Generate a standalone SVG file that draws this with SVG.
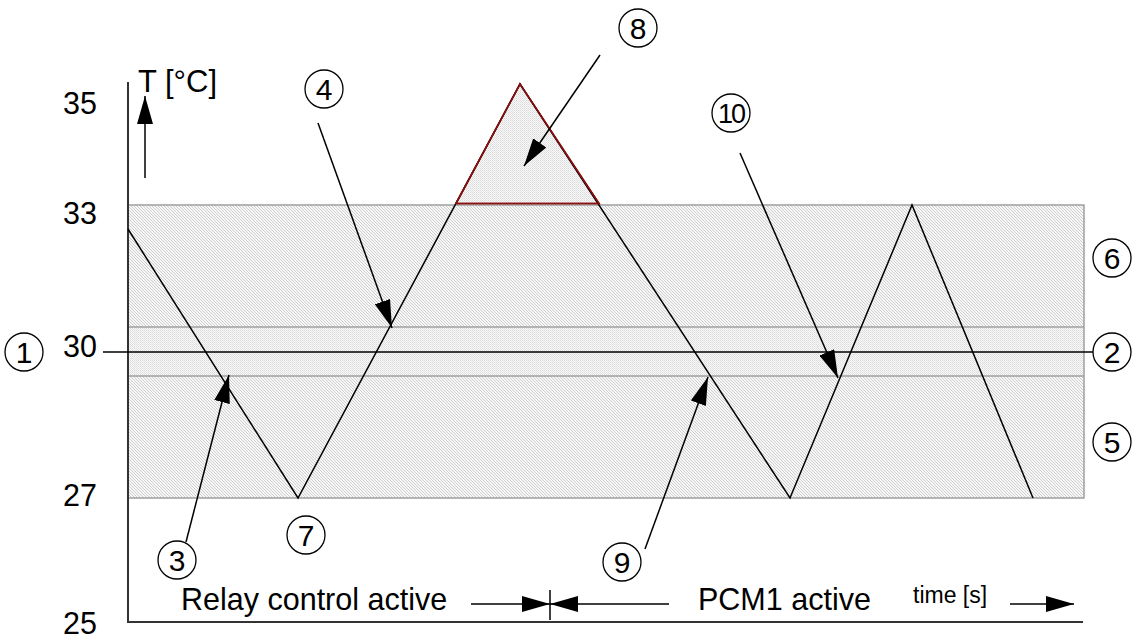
<svg xmlns="http://www.w3.org/2000/svg" width="1134" height="639" viewBox="0 0 1134 639">
  <style>
    .t { font-family: "Liberation Sans", Arial, sans-serif; font-size: 30.5px; fill: #000; }
    .ts { font-family: "Liberation Sans", Arial, sans-serif; font-size: 23px; fill: #000; }
    .cn { font-family: "Liberation Sans", Arial, sans-serif; font-size: 30px; fill: #000; text-anchor: middle; }
    .circ { fill: none; stroke: #000; stroke-width: 1.3; }
    .ln { stroke: #000; stroke-width: 1.5; fill: none; }
    .ptr { stroke: #000; stroke-width: 1.5; fill: none; marker-end: url(#ah); }
    .bd { stroke: #a0a0a0; stroke-width: 1.5; fill: none; }
  </style>
  <defs>
    <pattern id="hatch" patternUnits="userSpaceOnUse" width="3" height="3">
      <rect width="3" height="3" fill="#f7f7f7"/>
      <path d="M0,0 L3,3 M-1,2 L1,4 M2,-1 L4,1" stroke="#c4c4c4" stroke-width="0.8"/>
    </pattern>
    <pattern id="dots" patternUnits="userSpaceOnUse" width="2" height="2">
      <rect width="2" height="2" fill="#f7f7f7"/>
      <rect width="1" height="1" fill="#dcdcdc"/>
      <rect x="1" y="1" width="1" height="1" fill="#e6e6e6"/>
    </pattern>
    <marker id="ah" viewBox="0 0 28 16" refX="28" refY="8" markerWidth="28" markerHeight="16" markerUnits="userSpaceOnUse" orient="auto">
      <path d="M0,0 L28,8 L0,16 Z" fill="#000"/>
    </marker>
  </defs>

  <g id="bands">
    <rect x="128" y="205" width="956" height="293" fill="url(#hatch)"/>
    <rect x="128" y="327" width="956" height="49" fill="url(#dots)"/>
    <path class="bd" d="M128,205 H1084 V498 H128 M128,327 H1084 M128,376 H1084"/>
  </g>

  <g id="axes">
    <path d="M128,82 V622 H1083" stroke="#333" stroke-width="2" fill="none"/>
    <text class="t" x="63" y="114">35</text>
    <text class="t" x="63" y="224">33</text>
    <text class="t" x="63" y="357">30</text>
    <text class="t" x="63" y="506">27</text>
    <text class="t" x="63" y="634">25</text>
    <text class="t" x="138" y="92" style="font-size:31px">T [°C]</text>
    <path class="ptr" d="M145,178 V96"/>
  </g>

  <g id="overheat">
    <polygon points="456,203.5 520,84 599,203.5" fill="url(#dots)" stroke="#8b1010" stroke-width="1.6"/>
  </g>

  <g id="curve">
    <polyline class="ln" points="128,229 298,498 520,84 790,498 912,205 1033,498"/>
    <polygon points="456,203.5 520,84 599,203.5" fill="none" stroke="#8b1010" stroke-width="1.6"/>
  </g>

  <g id="setpoint">
    <path class="ln" d="M103,352 H1093"/>
  </g>

  <g id="connectors">
    <path class="ptr" d="M186,542 L229,375"/>
    <path class="ptr" d="M318,123 L392,328"/>
    <path class="ptr" d="M600,55 L524,166"/>
    <path class="ptr" d="M645,549 L708,377"/>
    <path class="ptr" d="M740,153 L838,378"/>
  </g>

  <g id="time-axis">
    <text class="t" x="181" y="610">Relay control active</text>
    <path class="ptr" d="M471,604 H550"/>
    <path class="ln" d="M550,590 V620"/>
    <path class="ptr" d="M669,604 H550"/>
    <text class="t" x="698" y="610">PCM1 active</text>
    <text class="ts" x="913" y="603">time [s]</text>
    <path class="ptr" d="M1010,604 H1074"/>
  </g>

  <g id="c1"><circle class="circ" cx="24" cy="352" r="19"/><text class="cn" x="24" y="363">1</text></g>
  <g id="c2"><circle class="circ" cx="1112" cy="352" r="19"/><text class="cn" x="1112" y="363">2</text></g>
  <g id="c3"><circle class="circ" cx="177" cy="560" r="19"/><text class="cn" x="177" y="571">3</text></g>
  <g id="c4"><circle class="circ" cx="324" cy="89" r="19"/><text class="cn" x="324" y="100">4</text></g>
  <g id="c5"><circle class="circ" cx="1112" cy="442" r="19"/><text class="cn" x="1112" y="453">5</text></g>
  <g id="c6"><circle class="circ" cx="1112" cy="258" r="19"/><text class="cn" x="1112" y="269">6</text></g>
  <g id="c7"><circle class="circ" cx="306" cy="535" r="19"/><text class="cn" x="306" y="546">7</text></g>
  <g id="c8"><circle class="circ" cx="638" cy="28" r="19"/><text class="cn" x="638" y="39">8</text></g>
  <g id="c9"><circle class="circ" cx="622" cy="562" r="19"/><text class="cn" x="622" y="573">9</text></g>
  <g id="c10"><circle class="circ" cx="731" cy="113" r="19"/><text class="cn" x="731" y="123" style="font-size:27px;letter-spacing:-2px">10</text></g>
</svg>
